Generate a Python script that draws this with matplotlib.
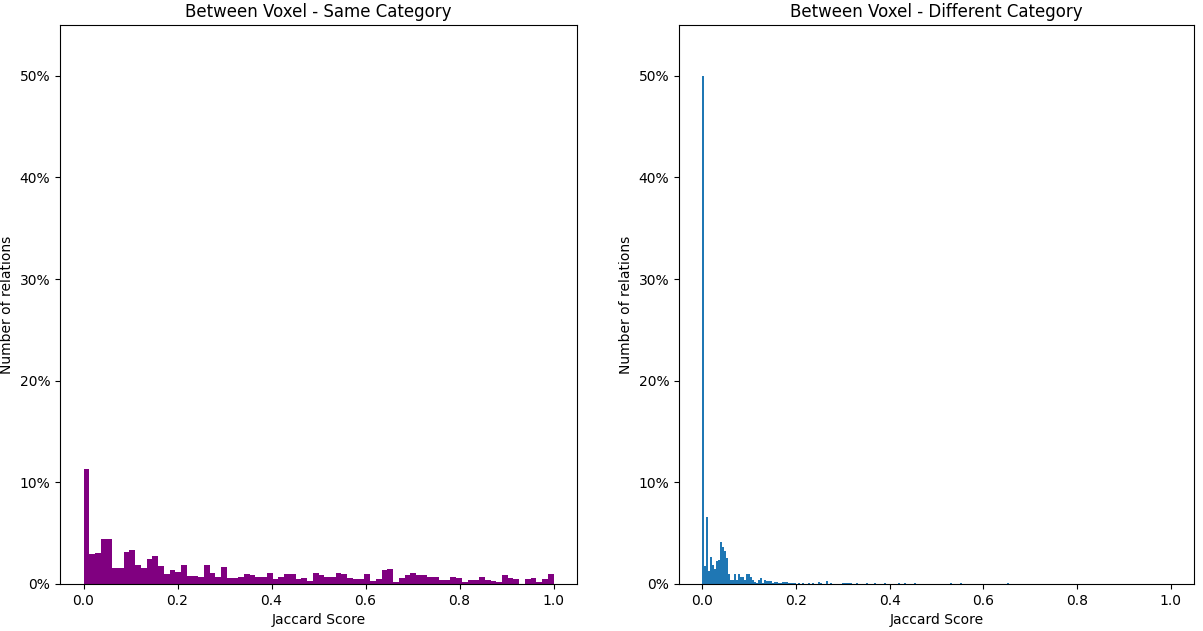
import matplotlib
matplotlib.use("Agg")
import matplotlib.pyplot as plt
from matplotlib.ticker import PercentFormatter
import numpy as np

# same category: 82 bins over [0, 1], share of relations in %
same_pct = [11.35, 2.96, 3.06, 4.47, 4.47, 1.58, 1.58, 3.19, 3.36, 1.84,
            1.58, 2.50, 2.80, 1.74, 1.02, 1.38, 1.18, 1.84, 0.82, 0.82,
            0.66, 1.84, 1.09, 0.66, 1.64, 0.56, 0.56, 0.72, 0.95, 0.86,
            0.72, 0.66, 1.09, 0.46, 0.72, 0.95, 0.95, 0.50, 0.56, 0.26,
            1.10, 0.85, 0.72, 0.72, 1.10, 1.00, 0.56, 0.46, 0.46, 1.00,
            0.30, 0.46, 1.38, 1.48, 0.20, 0.56, 0.92, 1.10, 0.85, 0.85,
            0.66, 0.66, 0.36, 0.36, 0.66, 0.56, 0.20, 0.40, 0.40, 0.66,
            0.40, 0.26, 0.20, 0.92, 0.63, 0.46, 0.00, 0.46, 0.56, 0.20,
            0.46, 0.95]
same_bins = 82

# different category: 234 bins over [0, 1]
diff_bins = 234
diff_head_pct = [50.0, 1.8, 6.6, 1.3, 2.7, 1.9, 1.45, 2.3, 2.4, 4.1,
                 3.6, 3.2, 2.6, 1.0, 0.4, 0.4, 1.0, 0.4, 1.0, 0.7,
                 0.7, 0.4, 1.0, 1.0, 0.7, 0.4, 0.2, 0.1, 0.4, 0.6,
                 0.1, 0.4, 0.3, 0.3, 0.3, 0.1, 0.15, 0.15, 0.1, 0.1,
                 0.2, 0.2, 0.2, 0.08, 0.08, 0.1]
diff_tail_bin = [46, 48, 50, 53, 55, 58, 59, 62, 64, 70, 71, 72, 73, 74,
                 77, 82, 86, 91, 98, 101, 106, 124, 129, 152]
diff_tail_pct = [0.1, 0.1, 0.1, 0.1, 0.08, 0.15, 0.08, 0.25, 0.08, 0.08, 0.08,
                 0.08, 0.08, 0.08, 0.08, 0.08, 0.08, 0.08, 0.08, 0.08, 0.08,
                 0.08, 0.08, 0.08]

diff_pct = np.zeros(diff_bins)
diff_pct[:len(diff_head_pct)] = diff_head_pct
diff_pct[diff_tail_bin] = diff_tail_pct

fig = plt.figure(figsize=(12.03, 6.31), dpi=100)
ax1 = fig.add_axes([0.0499, 0.0745, 0.4298, 0.886])
ax2 = fig.add_axes([0.5644, 0.0745, 0.4281, 0.886])

edges1 = np.linspace(0, 1, same_bins + 1)
ax1.hist(edges1[:-1], bins=edges1, weights=same_pct, color="purple")
ax1.set_title("Between Voxel - Same Category")

edges2 = np.linspace(0, 1, diff_bins + 1)
ax2.hist(edges2[:-1], bins=edges2, weights=diff_pct, color="C0")
ax2.set_title("Between Voxel - Different Category")

for ax in (ax1, ax2):
    ax.set_ylim(0, 55)
    ax.set_yticks([0, 10, 20, 30, 40, 50])
    ax.yaxis.set_major_formatter(PercentFormatter(decimals=0))
    ax.set_xticks([0, 0.2, 0.4, 0.6, 0.8, 1.0])
    ax.set_xlabel("Jaccard Score")
    ax.set_ylabel("Number of relations")

fig.savefig("out.png", dpi=100)
